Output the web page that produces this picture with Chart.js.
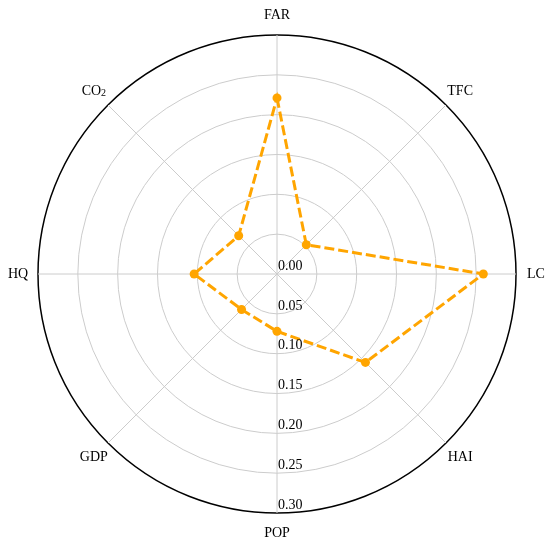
<!DOCTYPE html>
<html>
<head>
<meta charset="utf-8">
<title>Radar</title>
<script src="https://cdn.jsdelivr.net/npm/chart.js@4.4.0/dist/chart.umd.min.js"></script>
<style>
  html, body { margin: 0; padding: 0; background: #fff; }
  #wrap { width: 550px; height: 543px; }
</style>
</head>
<body>
<div id="wrap"><canvas id="radar-chart" width="550" height="543"></canvas></div>
<script>
var labels = ['FAR', 'TFC', 'LC', 'HAI', 'POP', 'GDP', 'HQ', 'CO₂'];
var values = [0.221, 0.052, 0.259, 0.157, 0.072, 0.063, 0.104, 0.068];
var rTicks = [0.00, 0.05, 0.10, 0.15, 0.20, 0.25, 0.30];

var serif = '"Liberation Serif", "Times New Roman", serif';
var orange = '#ffa500';

// draw "CO₂" style labels with a real-size subscript digit
function drawLabel(ctx, text, x, y) {
    var m = text.match(/^(.*?)([₀-₉])$/);
    if (!m) {
        ctx.fillText(text, x, y);
        return;
    }
    var sub = String.fromCharCode(m[2].charCodeAt(0) - 0x2080 + 48);
    ctx.font = '14px ' + serif;
    var w1 = ctx.measureText(m[1]).width;
    ctx.font = '10px ' + serif;
    var w2 = ctx.measureText(sub).width;
    var left = x - (w1 + w2) / 2;
    ctx.textAlign = 'left';
    ctx.font = '14px ' + serif;
    ctx.fillText(m[1], left, y);
    ctx.font = '10px ' + serif;
    ctx.fillText(sub, left + w1, y + 3);
    ctx.font = '14px ' + serif;
    ctx.textAlign = 'center';
}

// tick labels run down the POP axis, point labels sit centred outside the rim
var radarText = {
    id: 'radarText',
    afterDatasetsDraw: function(chart) {
        var scale = chart.scales.r;
        var ctx = chart.ctx;
        ctx.save();
        ctx.fillStyle = '#000';
        ctx.font = '14px ' + serif;
        ctx.textAlign = 'left';
        ctx.textBaseline = 'bottom';
        rTicks.forEach(function(v) {
            var d = scale.getDistanceFromCenterForValue(v);
            ctx.fillText(v.toFixed(2), scale.xCenter + 1, scale.yCenter + d - 1);
        });
        ctx.textAlign = 'center';
        ctx.textBaseline = 'middle';
        labels.forEach(function(label, i) {
            var p = scale.getPointPosition(i, scale.drawingArea + 20);
            drawLabel(ctx, label, p.x, p.y);
        });
        ctx.restore();
    }
};

var ctx = document.getElementById('radar-chart');

var myRadar = new Chart(ctx, {
    type: 'radar',
    data: {
        labels: labels,
        datasets: [{
            data: values,
            borderColor: orange,
            backgroundColor: orange,
            borderWidth: 3,
            borderDash: [10, 4],
            fill: false,
            tension: 0,
            pointRadius: 4.5,
            pointBorderWidth: 0,
            pointBackgroundColor: orange
        }]
    },
    options: {
        responsive: false,
        animation: false,
        layout: { padding: { left: 38, right: 34, top: 35, bottom: 30 } },
        plugins: {
            legend: { display: false },
            tooltip: { enabled: false }
        },
        scales: {
            r: {
                min: 0,
                max: 0.3,
                afterBuildTicks: function(scale) {
                    scale.ticks = rTicks.map(function(v) { return { value: v }; });
                },
                ticks: { display: false },
                pointLabels: { display: false },
                grid: {
                    circular: true,
                    color: function(c) { return c.index === rTicks.length - 1 ? '#000' : '#cccccc'; },
                    lineWidth: function(c) { return c.index === rTicks.length - 1 ? 1.5 : 1; }
                },
                angleLines: { color: '#cccccc', lineWidth: 1 }
            }
        }
    },
    plugins: [radarText]
});
</script>
</body>
</html>
